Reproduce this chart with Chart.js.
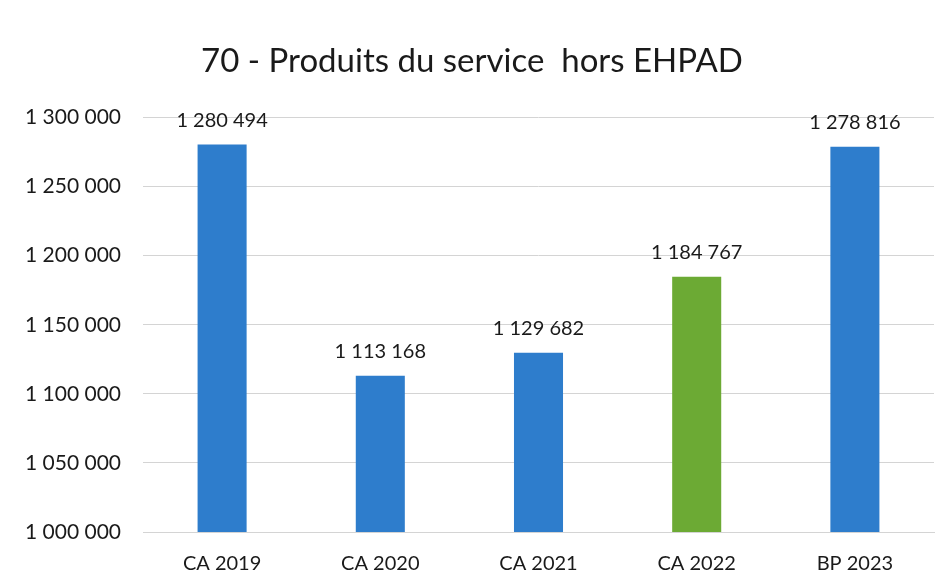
<!DOCTYPE html>
<html>
<head>
<meta charset="utf-8">
<script src="https://cdn.jsdelivr.net/npm/chart.js@4/dist/chart.umd.min.js"></script>
<style>
  html, body { margin: 0; padding: 0; background: #fff; }
  #wrap { width: 946px; height: 588px; }
</style>
</head>
<body>
<div id="wrap"><canvas id="myChart" width="946" height="588"></canvas></div>
<script>
const categories = ['CA 2019', 'CA 2020', 'CA 2021', 'CA 2022', 'BP 2023'];
const values = [1280494, 1113168, 1129682, 1184767, 1278816];
const barColors = ['#2e7dcc', '#2e7dcc', '#2e7dcc', '#6caa34', '#2e7dcc'];

const fontName = 'Lato, "Open Sans", sans-serif';

// espace comme séparateur de milliers
function fmt(v) {
    return String(Math.round(v)).replace(/\B(?=(\d{3})+(?!\d))/g, ' ');
}

// étiquettes de valeurs au-dessus des barres
const valueLabels = {
    id: 'valueLabels',
    afterDatasetsDraw(chart) {
        const ctx = chart.ctx;
        const meta = chart.getDatasetMeta(0);
        ctx.save();
        ctx.font = '20px ' + fontName;
        ctx.fillStyle = '#1a1a1a';
        ctx.textAlign = 'center';
        ctx.textBaseline = 'middle';
        meta.data.forEach((bar, i) => {
            ctx.fillText(fmt(values[i]), bar.x, bar.y - 24);
        });
        ctx.restore();
    }
};

var ctx = document.getElementById('myChart').getContext('2d');
var myChart = new Chart(ctx, {
    type: 'bar',
    data: {
        labels: categories,
        datasets: [{
            data: values,
            backgroundColor: barColors,
            borderWidth: 0,
            barPercentage: 0.31,
            categoryPercentage: 1
        }]
    },
    options: {
        responsive: false,
        animation: false,
        layout: { padding: { left: 10, right: 12, top: 42, bottom: 0 } },
        plugins: {
            legend: { display: false },
            tooltip: { enabled: false },
            title: {
                display: true,
                text: '70 - Produits du service  hors EHPAD',
                color: '#1a1a1a',
                font: { family: fontName, size: 33, weight: 'normal' },
                padding: { top: 0, bottom: 36 }
            }
        },
        scales: {
            y: {
                min: 1000000,
                max: 1300000,
                ticks: {
                    stepSize: 50000,
                    color: '#1a1a1a',
                    font: { family: fontName, size: 21 },
                    padding: 22,
                    callback: v => fmt(v)
                },
                grid: { color: '#d4d4d4', drawTicks: false },
                border: { display: false },
                afterFit(scale) { scale.width = 133; }
            },
            x: {
                ticks: {
                    color: '#1a1a1a',
                    font: { family: fontName, size: 20 },
                    padding: 12
                },
                grid: { display: false },
                border: { color: '#d4d4d4' }
            }
        }
    },
    plugins: [valueLabels]
});
</script>
</body>
</html>
